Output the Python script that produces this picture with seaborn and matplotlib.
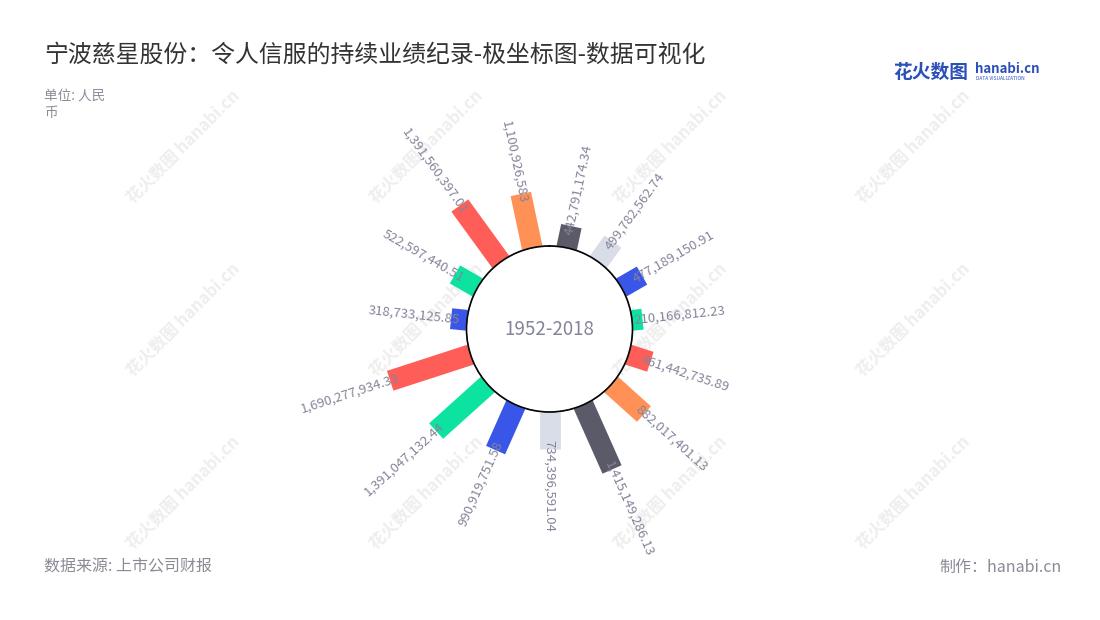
import numpy as np
import matplotlib
matplotlib.use('Agg')
import matplotlib.pyplot as plt
import seaborn as sns

# data, clockwise starting from the bar on the left (about 9 o'clock)
years = ['2004', '2005', '2006', '2007', '2008', '2009', '2010', '2011',
         '2012', '2013', '2014', '2015', '2016', '2017', '2018']
revenue = [318733125.85, 522597440.51, 1391560397.01, 1100926583,
           442791174.34, 499782562.74, 477189150.91, 210166812.23,
           461442735.89, 882017401.13, 1415149286.13, 734396591.04,
           990919751.58, 1391047132.44, 1690277934.33]
labels = ['318,733,125.85', '522,597,440.51', '1,391,560,397.01', '1,100,926,583',
          '442,791,174.34', '499,782,562.74', '477,189,150.91', '210,166,812.23',
          '461,442,735.89', '882,017,401.13', '1,415,149,286.13', '734,396,591.04',
          '990,919,751.58', '1,391,047,132.44', '1,690,277,934.33']
center_text = '1952-2018'

sns.set_theme(style='white')
plt.rcParams['font.family'] = ['Noto Sans CJK SC', 'DejaVu Sans']

palette = sns.color_palette(['#3a56e8', '#0de3a1', '#ff5d57', '#ff9157', '#5a5a68', '#d9dde8'])
colors = [palette[i % len(palette)] for i in range(len(years))]

fig = plt.figure(figsize=(11, 6.2), dpi=100)
fig.patch.set_facecolor('white')

# watermarks go in a background axes so the bars sit on top
bg = fig.add_axes([0, 0, 1, 1], zorder=-5)
bg.set_axis_off()
bg.set_xlim(0, 1100)
bg.set_ylim(620, 0)
for wx in [183, 426, 670, 913]:
    for wy in [147, 320, 493]:
        bg.text(wx, wy, '花火数图 hanabi.cn', rotation=45, ha='center', va='center',
                fontsize=12, color='#eeeeee', fontweight='bold')

# polar axes: centre at (549.5, 329) px, 200 px radius
cx, cy, R = 549.5, 329, 200
ax = fig.add_axes([(cx - R) / 1100, (620 - cy - R) / 620, 2 * R / 1100, 2 * R / 620],
                  projection='polar', zorder=2)
px_per_unit = 5.0  # px per 1e8 yuan
inner_px = 83
ax.set_theta_zero_location('N')
ax.set_theta_direction(-1)
ax.set_ylim(0, (R - inner_px) / px_per_unit)
ax.set_rorigin(-inner_px / px_per_unit)
ax.grid(False)
ax.set_xticks([])
ax.set_yticks([])
ax.spines['polar'].set_visible(False)
ax.set_facecolor('none')

n = len(years)
start_deg = 276
theta_deg = [(start_deg + 360 / n * i) % 360 for i in range(n)]
theta = np.deg2rad(theta_deg)
vals = np.array(revenue) / 1e8

ax.vlines(theta, 0, vals, colors=colors, lw=15, capstyle='butt', zorder=2)

# inner circle
tt = np.linspace(0, 2 * np.pi, 500)
ax.plot(tt, np.zeros_like(tt), color='black', lw=0.7, clip_on=False, zorder=3)

for t, td, v, s in zip(theta, theta_deg, vals, labels):
    r = v - 9 / px_per_unit
    ang = 90 - td
    if td > 180.5:
        ang += 180
        ha = 'right'
    else:
        ha = 'left'
    ax.text(t, r, s, rotation=ang, rotation_mode='anchor', ha=ha, va='center',
            fontsize=9.5, color='#84849a', zorder=4, clip_on=False)

ax.text(0.5, 0.5, center_text, transform=ax.transAxes, ha='center', va='center',
        fontsize=13.5, color='#84849a')

# titles and notes
fig.text(44 / 1100, 1 - 55 / 620, '宁波慈星股份：令人信服的持续业绩纪录-极坐标图-数据可视化',
         fontsize=17.2, color='#333333', ha='left', va='center')
fig.text(44 / 1100, 1 - 96 / 620, '单位: 人民', fontsize=9.8, color='#8c8c99', ha='left', va='center')
fig.text(44 / 1100, 1 - 113 / 620, '币', fontsize=9.8, color='#8c8c99', ha='left', va='center')
fig.text(44 / 1100, 1 - 567 / 620, '数据来源: 上市公司财报', fontsize=11.5, color='#8a8a96',
         ha='left', va='center')
fig.text(1062 / 1100, 1 - 567 / 620, '制作：hanabi.cn', fontsize=11.5, color='#8a8a96',
         ha='right', va='center')

# logo
fig.text(893 / 1100, 1 - 72 / 620, '花火数图', fontsize=13.5, color='#2b4fb8',
         fontweight='bold', ha='left', va='center')
fig.text(975 / 1100, 1 - 69 / 620, 'hanabi.cn', fontsize=9.5, color='#2b4fb8',
         fontweight='bold', ha='left', va='center')
fig.text(976 / 1100, 1 - 79 / 620, 'DATA VISUALIZATION', fontsize=3.5, color='#2b4fb8',
         ha='left', va='center')

fig.savefig('out.png', dpi=100, facecolor='white')
